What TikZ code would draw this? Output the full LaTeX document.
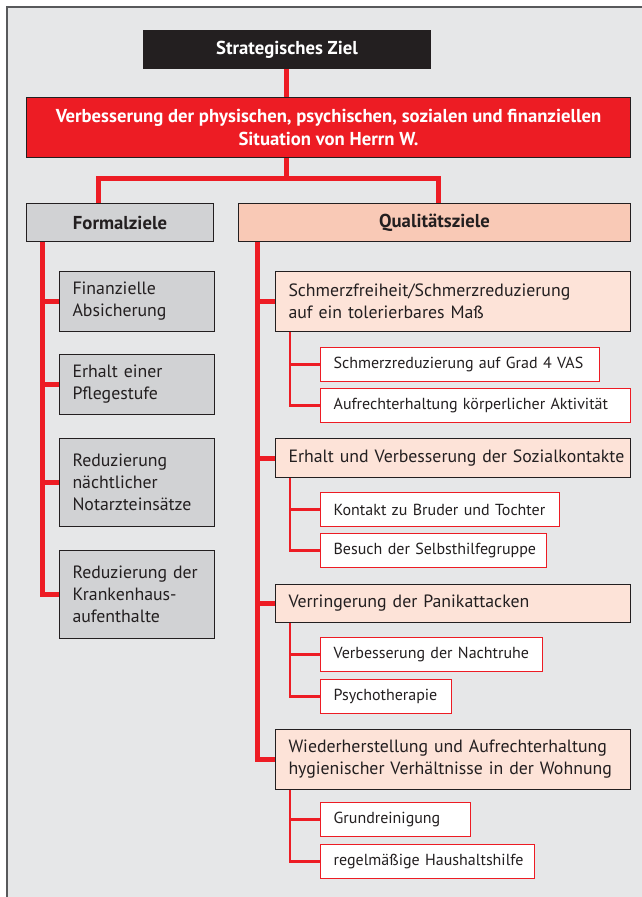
\documentclass[tikz,border=0pt]{standalone}
\usepackage{fontspec}
\setmainfont{PT Sans}
\usetikzlibrary{calc}
\definecolor{rd}{HTML}{ED1C24}
\definecolor{panel}{HTML}{E6E7E8}
\definecolor{grbox}{HTML}{D1D2D4}
\definecolor{peach}{HTML}{F9C9B6}
\definecolor{peachl}{HTML}{FDE3D8}
\definecolor{ink}{HTML}{231F20}
\definecolor{framec}{HTML}{58595B}
\begin{document}
\begin{tikzpicture}[x=1pt,y=-1pt,
  every node/.style={inner sep=0pt, text=ink},
  cbox/.style={draw=ink, line width=1pt, anchor=north west, align=center,
    font=\fontsize{18.7}{23}\selectfont\bfseries},
  lbox/.style={draw=ink, line width=1pt, anchor=north west, align=left,
    inner xsep=13pt, font=\fontsize{17.8}{22}\selectfont},
  sbox/.style={draw=rd, line width=1.3pt, fill=white, anchor=north west, align=left,
    inner xsep=13pt, minimum height=34pt, font=\fontsize{16}{20}\selectfont},
  thickred/.style={draw=rd, line width=5pt, line join=miter},
  thinred/.style={draw=rd, line width=2.5pt, line join=miter},
]
\useasboundingbox (0,0) rectangle (642,897);
\fill[white] (0,0) rectangle (642,897);
\fill[panel] (7,7) rectangle (645,900);
\draw[framec, line width=1.5pt] (7,900) -- (7,7) -- (645,7);

% top
\node[cbox, fill=ink, text=white, minimum width=287pt, minimum height=38pt] (strat) at (143,30) {Strategisches Ziel};
\node[cbox, fill=rd, text=white, minimum width=604pt, minimum height=60pt] (goal) at (26,97)
  {Verbesserung der physischen, psychischen, sozialen und finanziellen\\Situation von Herrn W.};
\node[cbox, fill=grbox, minimum width=187pt, minimum height=38pt] (formal) at (26,203) {Formalziele};
\node[cbox, fill=peach, minimum width=392pt, minimum height=38pt] (qual) at (238,203) {Qualitätsziele};

% left column
\node[lbox, fill=grbox, text width=129pt, minimum height=60pt] (f1) at (59,271) {Finanzielle\\Absicherung};
\node[lbox, fill=grbox, text width=129pt, minimum height=60pt] (f2) at (59,354) {Erhalt einer\\Pflegestufe};
\node[lbox, fill=grbox, text width=129pt, minimum height=88pt] (f3) at (59,438) {Reduzierung\\nächtlicher\\Notarzteinsätze};
\node[lbox, fill=grbox, text width=129pt, minimum height=88pt] (f4) at (59,550) {Reduzierung der\\Krankenhaus-\\aufenthalte};

% right column level 2
\node[lbox, fill=peachl, text width=329pt, minimum height=60pt] (q1) at (275,271) {\mbox{Schmerzfreiheit/Schmerzreduzierung}\\\mbox{auf ein tolerierbares Maß}};
\node[lbox, fill=peachl, text width=329pt, minimum height=39pt] (q2) at (275,438) {\mbox{Erhalt und Verbesserung der Sozialkontakte}};
\node[lbox, fill=peachl, text width=329pt, minimum height=38pt] (q3) at (275,584) {\mbox{Verringerung der Panikattacken}};
\node[lbox, fill=peachl, text width=329pt, minimum height=60pt] (q4) at (275,729) {\mbox{Wiederherstellung und Aufrechterhaltung}\\\mbox{hygienischer Verhältnisse in der Wohnung}};

% level 3
\node[sbox, text width=253pt] (s11) at (320,347) {\mbox{Schmerzreduzierung auf Grad 4 VAS}};
\node[sbox, text width=284pt] (s12) at (320,388) {\mbox{Aufrechterhaltung körperlicher Aktivität}};
\node[sbox, text width=213pt] (s21) at (320,492) {\mbox{Kontakt zu Bruder und Tochter}};
\node[sbox, text width=200pt] (s22) at (320,533) {\mbox{Besuch der Selbsthilfegruppe}};
\node[sbox, text width=196pt] (s31) at (320,637) {\mbox{Verbesserung der Nachtruhe}};
\node[sbox, text width=105pt] (s32) at (320,679) {\mbox{Psychotherapie}};
\node[sbox, text width=124pt] (s41) at (320,802) {\mbox{Grundreinigung}};
\node[sbox, text width=188pt] (s42) at (320,844) {\mbox{regelmäßige Haushaltshilfe}};

% top connectors
\coordinate (jn) at (286.5,178);
\draw[thickred] (strat.south -| jn) -- (goal.north -| jn);
\draw[thickred] (goal.south -| jn) -- (jn);
\draw[thickred] ($(formal.north west)+(72,0)$) |- (jn) -| ($(qual.north west)+(200,0)$);

% left column connectors
\coordinate (lc) at (42,241);
\draw[thickred] (formal.south -| lc) |- (f4.west);
\foreach \n in {f1,f2,f3} \draw[thickred] (\n.west -| lc) -- (\n.west);

% right column connectors
\coordinate (rc) at (257,241);
\draw[thickred] (qual.south -| rc) |- (q4.west);
\foreach \n in {q1,q2,q3} \draw[thickred] (\n.west -| rc) -- (\n.west);

% level 3 connectors
\foreach \q/\a/\b in {q1/s11/s12, q2/s21/s22, q3/s31/s32, q4/s41/s42}{
  \coordinate (k) at ($(\q.south west)+(15,0)$);
  \draw[thinred] (k) |- (\b.west);
  \draw[thinred] (\a.west -| k) -- (\a.west);
}
\end{tikzpicture}
\end{document}
